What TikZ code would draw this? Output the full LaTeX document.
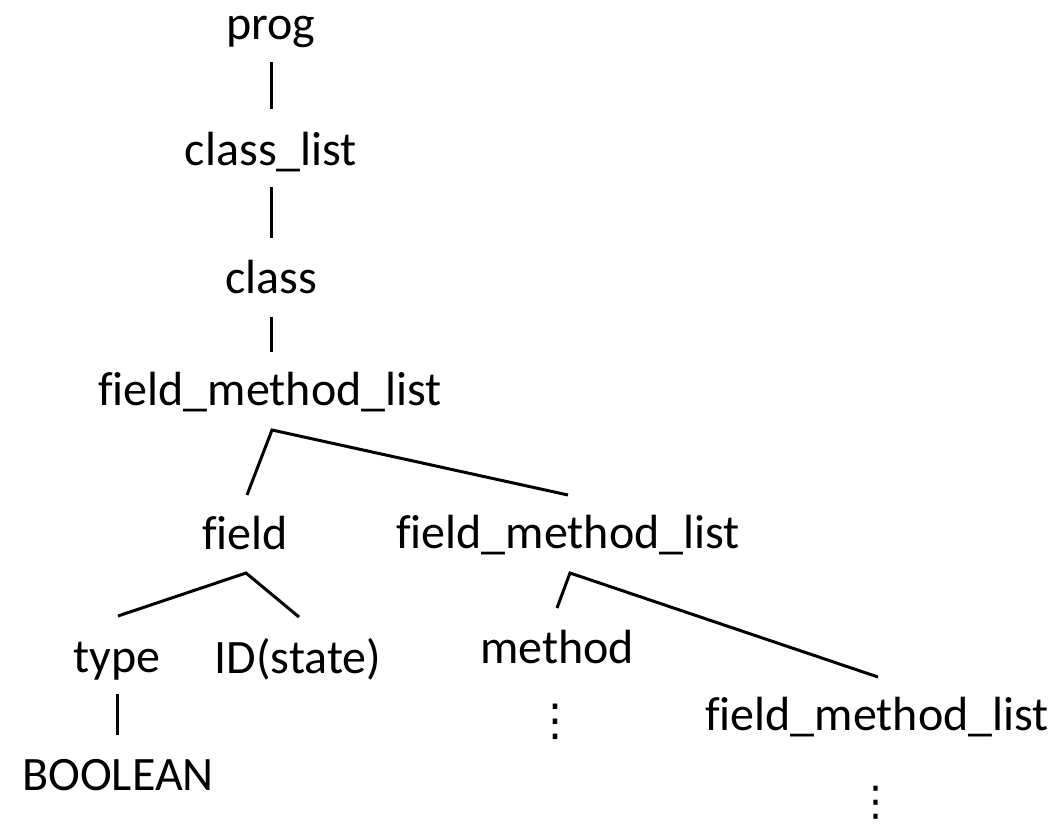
\documentclass[tikz,border=0pt]{standalone}
\usepackage{fontspec}
\setmainfont{Carlito}[Ligatures=NoCommon]
\newfontfamily\symfont{DejaVu Sans}
\begin{document}
\begin{tikzpicture}[x=1pt,y=-1pt,
  lbl/.style={anchor=base,inner sep=0pt,outer sep=0pt,
    text height=30pt,text depth=10pt,font=\fontsize{48}{58}\selectfont},
  more/.style={inner sep=0pt,font=\symfont\fontsize{44}{50}\selectfont},
  edge/.style={draw=black,line width=3pt}]
\path[fill=white,use as bounding box] (0,0) rectangle (1057,824);

% tree labels
\node[lbl] (prog)      at (271,40)  {prog};
\node[lbl] (classlist) at (271,165) {class\_list};
\node[lbl] (class)     at (271,293) {class};
\node[lbl] (fmlA)      at (270,405) {field\_method\_list};
\node[lbl] (field)     at (245,549) {field};
\node[lbl] (fmlB)      at (568,548) {field\_method\_list};
\node[lbl] (type)      at (117,672) {type};
\node[lbl] (id)        at (298,673) {ID(state)};
\node[lbl] (method)    at (557,663) {method};
\node[lbl] (bool)      at (118,790) {BOOLEAN};
\node[lbl] (fmlC)      at (877,730) {field\_method\_list};
\node[more] (moreA)    at (555,722) {⋮};
\node[more,font=\symfont\fontsize{41}{48}\selectfont] (moreB) at (876,803) {⋮};

% connectors
\draw[edge] ([yshift=-12pt]prog.south) -- ([yshift=26pt]classlist.north);
\draw[edge] ([yshift=-12pt]classlist.south) -- ([yshift=25pt]class.north);
\draw[edge] ([yshift=-14pt]class.south) -- ([xshift=1pt,yshift=23pt]fmlA.north);

\draw[edge] ([xshift=2pt,yshift=24pt]field.north)
  -- ([xshift=2pt,yshift=-15pt]fmlA.south)
  -- ([yshift=23pt]fmlB.north);

\draw[edge] ([xshift=1pt,yshift=26pt]type.north)
  -- ([xshift=1pt,yshift=-14pt]field.south)
  -- ([xshift=1pt,yshift=26pt]id.north);

\draw[edge] ([yshift=25pt]method.north)
  -- ([xshift=2pt,yshift=-15pt]fmlB.south)
  -- ([xshift=1pt,yshift=23pt]fmlC.north);

\draw[edge] ([yshift=-12pt]type.south) -- ([xshift=-1pt,yshift=25pt]bool.north);
\end{tikzpicture}
\end{document}
